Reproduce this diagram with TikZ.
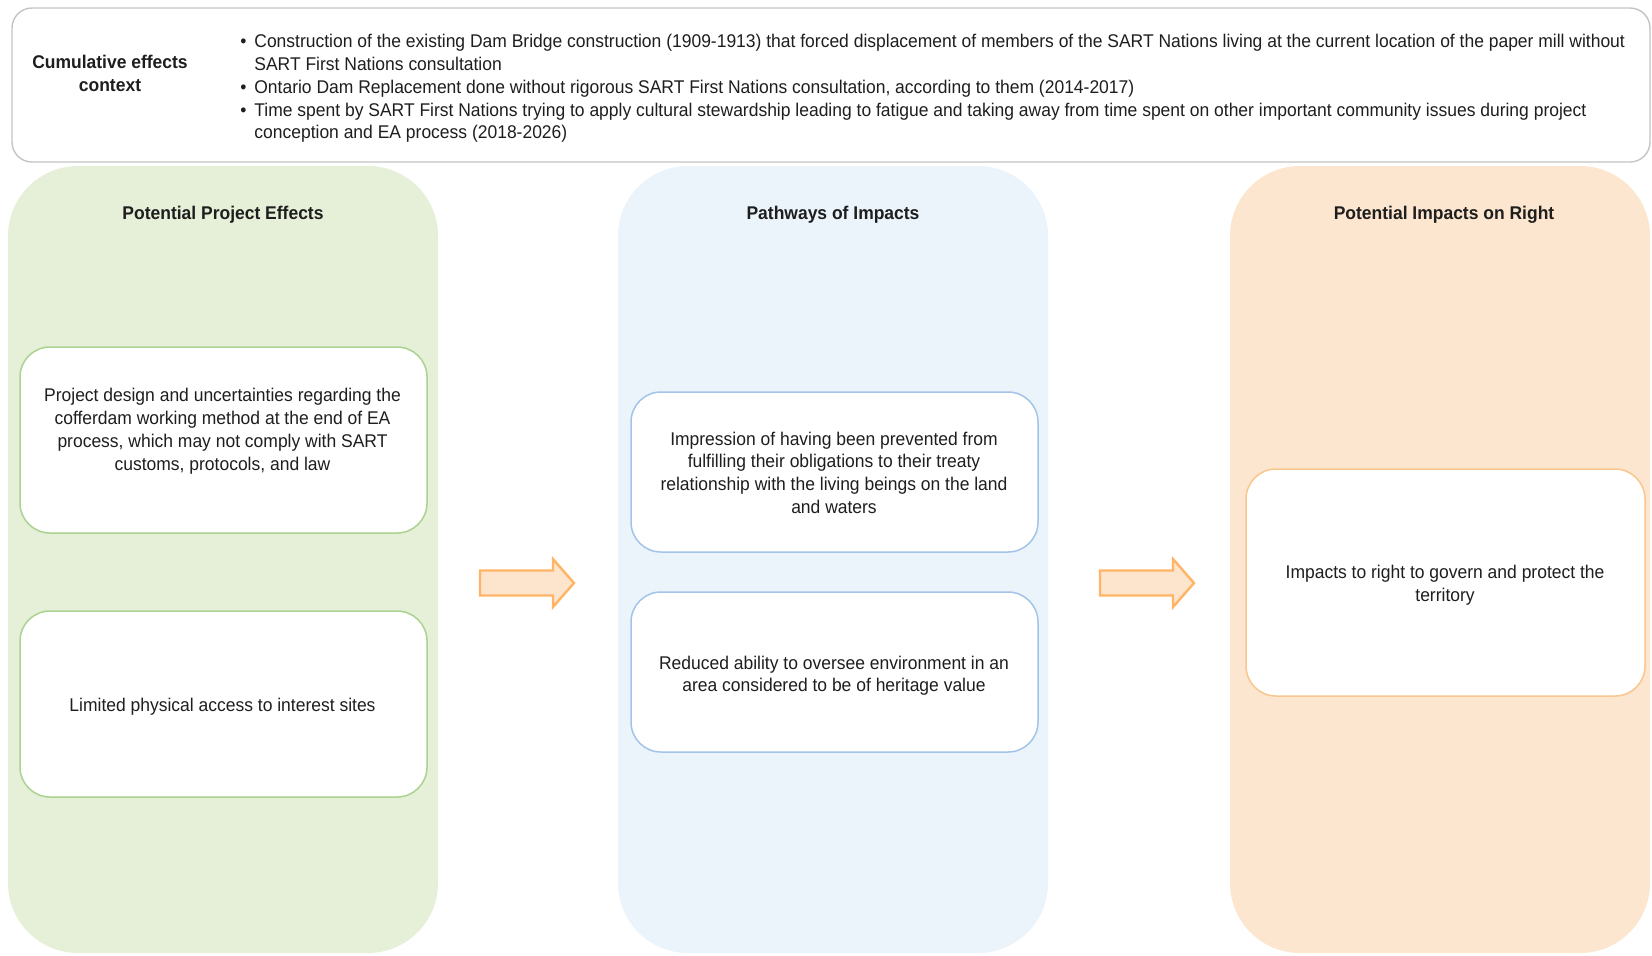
\documentclass[tikz,border=0pt]{standalone}
\usepackage{fontspec}
\setmainfont{Liberation Sans}[FakeStretch=0.95]
\usetikzlibrary{calc}

\definecolor{ctxline}{HTML}{C4C4C4}
\definecolor{effectsfill}{HTML}{E6F0D8}
\definecolor{effectsline}{HTML}{AAD291}
\definecolor{pathfill}{HTML}{EBF3FB}
\definecolor{pathline}{HTML}{A3C4E8}
\definecolor{rightfill}{HTML}{FDE6CF}
\definecolor{rightline}{HTML}{F9C68E}
\definecolor{arrowfill}{HTML}{FDE4CC}
\definecolor{arrowline}{HTML}{FFB466}
\definecolor{inktext}{HTML}{1E1E1E}

\tikzset{
  ctxbox/.style={draw=ctxline, line width=0.7pt, fill=white, rounded corners=10pt,
    minimum width=819pt, minimum height=77pt, inner sep=0pt},
  column/.style={rounded corners=35pt, minimum width=215pt, minimum height=393.5pt, inner sep=0pt},
  coltitle/.style={anchor=base, inner sep=0pt, font=\fontsize{9.2}{11.4}\selectfont\bfseries, text=inktext},
  itembox/.style={fill=white, line width=0.75pt, rounded corners=15pt,
    minimum width=203.5pt, inner sep=0pt},
  itemtext/.style={anchor=base, align=center, inner sep=0pt, text=inktext},
  arrowshape/.style={draw=arrowline, fill=arrowfill, line width=1.2pt, line join=miter}
}

% block arrow between two columns, #1 = left end of the shaft
\def\fatarrow(#1){\draw[arrowshape] ($(#1)+(0,-12.5)$) -- ++(73,0) -- ++(0,-11.5) -- ++(21,24) -- ++(-21,24) -- ++(0,-11.5) -- ++(-73,0) -- cycle;}

\begin{document}
\begin{tikzpicture}[x=0.5pt, y=-0.5pt, font=\fontsize{9.2}{11.4}\selectfont, text=inktext]
  \useasboundingbox (0,0) rectangle (1652,955);

  %%% context box (text nodes sit on the baseline of their last line)
  \node[ctxbox] (ctx) at (831,85) {};
  \node[coltitle, align=center] (ctxtitle) at (110,91) {Cumulative effects\\context};
  \node[anchor=base west, align=left, inner sep=0pt] (ctxlist) at (254,138.9) {%
    \llap{\textbullet\hspace{4pt}}Construction of the existing Dam Bridge construction (1909-1913) that forced displacement of members of the SART Nations living at the current location of the paper mill without\\
    SART First Nations consultation\\
    \llap{\textbullet\hspace{4pt}}Ontario Dam Replacement done without rigorous SART First Nations consultation, according to them (2014-2017)\\
    \llap{\textbullet\hspace{4pt}}Time spent by SART First Nations trying to apply cultural stewardship leading to fatigue and taking away from time spent on other important community issues during project\\
    conception and EA process (2018-2026)};

  %%% the three columns
  \node[column, fill=effectsfill] (effects) at (223,559.5) {};
  \node[column, fill=pathfill] (pathways) at (833,559.5) {};
  \node[column, fill=rightfill, minimum width=210pt] (rights) at (1440,559.5) {};

  \node[coltitle] (effectstitle) at (223,219) {Potential Project Effects};
  \node[coltitle] (pathwaystitle) at (833,219) {Pathways of Impacts};
  \node[coltitle] (rightstitle) at (1444,219) {Potential Impacts on Right};

  %%% project effects
  \node[itembox, draw=effectsline, minimum height=93pt] (design) at (223.5,440) {};
  \node[itemtext] (designtxt) at (222.5,470)
    {Project design and uncertainties regarding the\\cofferdam working method at the end of EA\\process, which may not comply with SART\\customs, protocols, and law};
  \node[itembox, draw=effectsline, minimum height=93pt] (access) at (223.5,704) {};
  \node[itemtext] (accesstxt) at (222.5,711.8) {Limited physical access to interest sites};

  %%% pathways
  \node[itembox, draw=pathline, minimum height=80pt] (obligations) at (834.5,472) {};
  \node[itemtext] (obligationstxt) at (834,513.5)
    {Impression of having been prevented from\\fulfilling their obligations to their treaty\\relationship with the living beings on the land\\and waters};
  \node[itembox, draw=pathline, minimum height=80pt] (oversee) at (834.5,672) {};
  \node[itemtext] (overseetxt) at (834,691.8)
    {Reduced ability to oversee environment in an\\area considered to be of heritage value};

  %%% impacts on right
  \node[itembox, draw=rightline, minimum width=199.5pt, minimum height=113.5pt] (govern) at (1445.5,582.5) {};
  \node[itemtext] (governtxt) at (1445,601.3)
    {Impacts to right to govern and protect the\\territory};

  %%% arrows
  \coordinate (arrA) at (480,583);
  \coordinate (arrB) at (1100,583);
  \fatarrow(arrA)
  \fatarrow(arrB)
\end{tikzpicture}
\end{document}
